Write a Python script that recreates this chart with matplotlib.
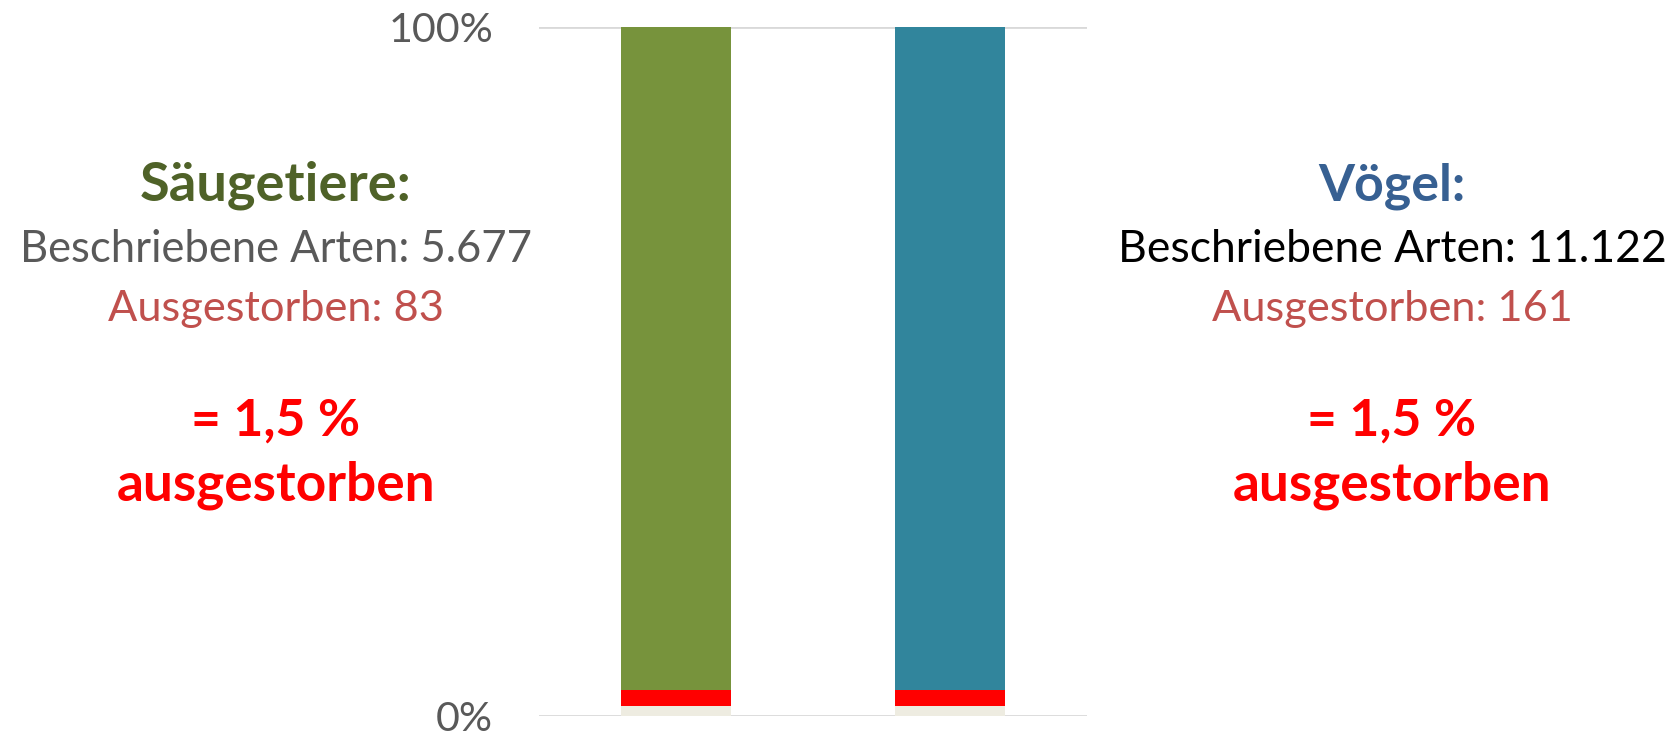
import matplotlib
matplotlib.use('Agg')
import matplotlib.pyplot as plt
import numpy as np

# ---- data ----
categories = ['Säugetiere', 'Vögel']
base_share = [1.4, 1.4]          # beige base segment (%)
extinct_share = [2.4, 2.4]       # red segment (%)
remaining_share = [96.2, 96.2]   # main coloured segment (%)
main_colors = ['#77933C', '#31859C']
ytick_vals = [0, 100]
ytick_labels = ['0%', '100%']

left_lines = ['Säugetiere:', 'Beschriebene Arten: 5.677', 'Ausgestorben: 83', '= 1,5 %', 'ausgestorben']
right_lines = ['Vögel:', 'Beschriebene Arten: 11.122', 'Ausgestorben: 161', '= 1,5 %', 'ausgestorben']

FONT = 'Lato'
W, H = 1680, 733
fig = plt.figure(figsize=(W / 100, H / 100), dpi=100)
ax = fig.add_axes([539 / W, 17 / H, 548 / W, 689 / H])

x = np.arange(len(categories))
w = 0.40
ax.bar(x, base_share, w, color='#EEECE1', zorder=3)
ax.bar(x, extinct_share, w, bottom=base_share, color='#FF0000', zorder=3)
ax.bar(x, remaining_share, w, bottom=np.add(base_share, extinct_share), color=main_colors, zorder=3)
ax.set_xlim(-0.5, 1.5)
ax.set_ylim(0, 100)
ax.set_xticks([])
ax.set_yticks(ytick_vals)
ax.set_yticklabels(ytick_labels, fontfamily=FONT)
ax.yaxis.grid(True, color='#D9D9D9', lw=2)
ax.set_axisbelow(True)
for s in ax.spines.values():
    s.set_visible(False)

renderer = fig.canvas.get_renderer()

# size tick labels so "100%" is ~105 px wide
tmp = fig.text(0, 0, '100%', fontsize=30, family=FONT)
tw = tmp.get_window_extent(renderer).width
tmp.remove()
ax.tick_params(axis='y', length=0, pad=33, labelsize=30 * 105 / tw, labelcolor='#595959')


def fit_text(xc, yb, s, target_w, **kw):
    t = fig.text(xc / W, 1 - yb / H, s, fontsize=30, ha='center', va='baseline', family=FONT, **kw)
    bw = t.get_window_extent(renderer).width
    t.set_fontsize(30 * target_w / bw)
    return t

baselines = [200, 262, 321, 436, 501]
left_x, right_x = 276, 1392
left_widths = [271, 513, 336, 169, 318]
right_widths = [147, 549, 361, 169, 318]
left_styles = [dict(color='#4F6228', fontweight='bold'), dict(color='#595959'),
               dict(color='#C0504D'), dict(color='#FF0000', fontweight='bold'),
               dict(color='#FF0000', fontweight='bold')]
right_styles = [dict(color='#376092', fontweight='bold'), dict(color='#000000'),
                dict(color='#C0504D'), dict(color='#FF0000', fontweight='bold'),
                dict(color='#FF0000', fontweight='bold')]

for s, yb, tw_, st in zip(left_lines, baselines, left_widths, left_styles):
    fit_text(left_x, yb, s, tw_, **st)
for s, yb, tw_, st in zip(right_lines, baselines, right_widths, right_styles):
    fit_text(right_x, yb, s, tw_, **st)

fig.savefig('out.png', dpi=100)
